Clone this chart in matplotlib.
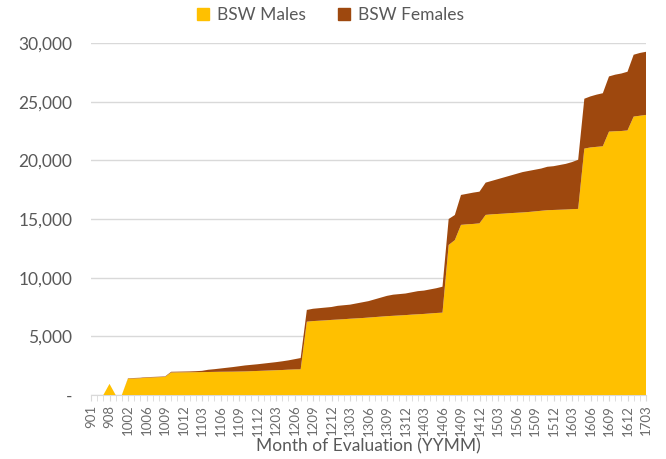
import matplotlib
matplotlib.use("Agg")
import matplotlib.pyplot as plt
from matplotlib.lines import Line2D
from matplotlib.ticker import FuncFormatter
import numpy as np

plt.rcParams['font.family'] = ['Lato', 'DejaVu Sans']

months = (["901", "903", "906", "908", "910", "912", "1002", "1003", "1004", "1006"] +
          [f"{y}{m:02d}" for y in range(10, 18) for m in range(1, 13)
           if (y * 100 + m) > 1006 and (y * 100 + m) <= 1703])

males = [0, 0, 0, 950, 0, 0, 1400, 1410, 1430, 1480, 1500, 1520, 1540, 1920,
         1930, 1935, 1940, 1945, 1950, 1960, 1970, 1980, 1985, 1990, 2000, 2010,
         2030, 2050, 2070, 2090, 2110, 2130, 2160, 2180, 2190,
         6250, 6300, 6330, 6360, 6400, 6430, 6460, 6500, 6530, 6560, 6600, 6640,
         6680, 6720, 6750, 6780, 6810, 6850, 6880, 6910, 6950, 6990, 7020,
         12790, 13200, 14500, 14550, 14580, 14630, 15350, 15400, 15430, 15460,
         15500, 15530, 15560, 15600, 15650, 15700, 15750, 15770, 15790, 15810,
         15840, 15860, 21000, 21100, 21150, 21200, 22450, 22480, 22500, 22550,
         23730, 23800, 23870]
totals = [0, 0, 0, 950, 0, 0, 1430, 1450, 1470, 1520, 1540, 1560, 1580, 1980,
          1990, 2000, 2010, 2030, 2060, 2150, 2200, 2260, 2320, 2380, 2450, 2520,
          2570, 2620, 2680, 2740, 2800, 2870, 2950, 3050, 3150,
          7250, 7350, 7400, 7450, 7500, 7600, 7650, 7700, 7800, 7900, 8000, 8150,
          8300, 8450, 8550, 8600, 8650, 8750, 8850, 8900, 9000, 9100, 9230,
          15000, 15340, 17050, 17150, 17250, 17330, 18100, 18250, 18400, 18550,
          18700, 18850, 19000, 19100, 19200, 19300, 19450, 19500, 19600, 19700,
          19850, 20050, 25250, 25450, 25600, 25720, 27150, 27300, 27400, 27550,
          29000, 29150, 29250]
females = [t - m for t, m in zip(totals, males)]

label_months = months[::3]

male_color = "#FFC000"
female_color = "#9E480E"
txt = "#595959"
grid = "#D9D9D9"

fig = plt.figure(figsize=(6.66, 4.59), dpi=100)
ax = fig.add_axes([91 / 666, 1 - 395 / 459, (646 - 91) / 666, (395 - 43) / 459])

x = np.arange(len(months))
ax.stackplot(x, males, females, colors=[male_color, female_color], linewidth=0)

ax.set_xlim(0, len(months) - 1)
ax.set_ylim(0, 30000)
ax.set_yticks(np.arange(0, 30001, 5000))
ax.yaxis.set_major_formatter(FuncFormatter(lambda v, p: "-" if v == 0 else f"{int(v):,}"))
ax.grid(axis="y", color=grid, linewidth=1)
ax.set_axisbelow(True)
for s in ["top", "right", "left"]:
    ax.spines[s].set_visible(False)
ax.spines["bottom"].set_color(grid)
ax.spines["bottom"].set_zorder(0)

ax.set_xticks(x[::3])
ax.set_xticklabels(label_months, rotation=90, fontsize=9.5, color="#6b6b6b")
ax.set_xticks(x, minor=True)
ax.tick_params(axis="x", which="both", length=4, color=grid, pad=3)
ax.tick_params(axis="y", length=0, labelsize=12.5, labelcolor=txt, pad=13.5)

ax.set_xlabel("Month of Evaluation (YYMM)", fontsize=12.5, color=txt, labelpad=2)

handles = [Line2D([], [], marker="s", linestyle="none", markersize=8, color=c)
           for c in [male_color, female_color]]
fig.legend(handles, ["BSW Males", "BSW Females"], loc="center",
           bbox_to_anchor=(0.495, 0.968), ncol=2, frameon=False, fontsize=12.5,
           labelcolor=txt, handlelength=0.8, handletextpad=0.4, columnspacing=1.8)

fig.savefig("out.png", dpi=100)
